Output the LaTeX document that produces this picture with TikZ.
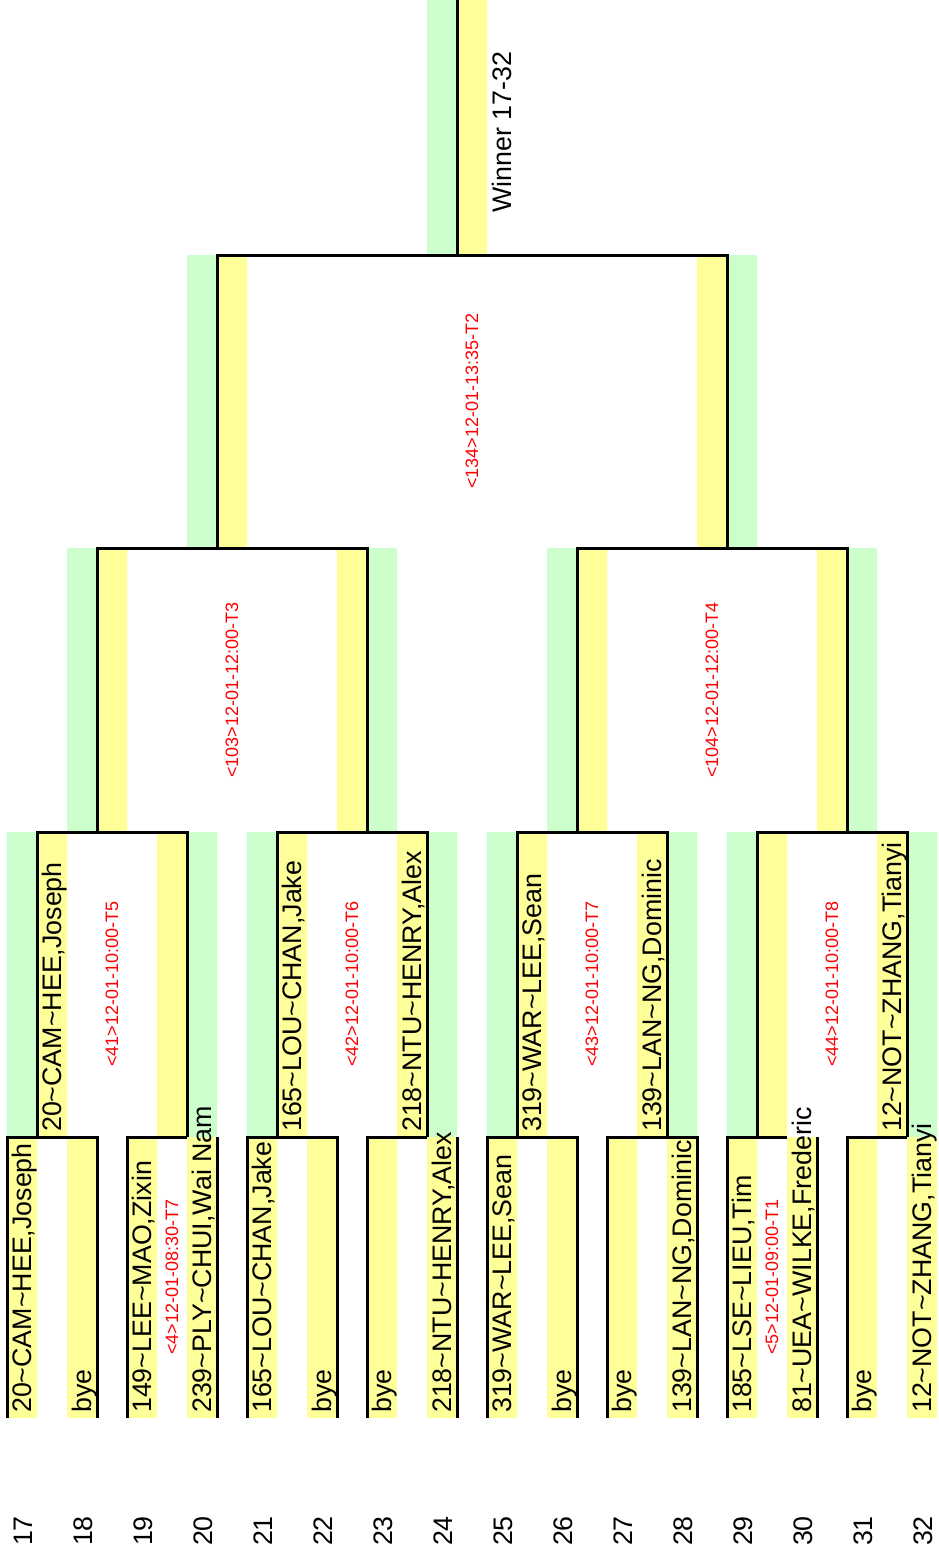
\documentclass[tikz,border=0pt]{standalone}
\usepackage{fontspec}
\setmainfont{Liberation Sans}
\usepackage{xcolor}
\definecolor{slotyellow}{RGB}{255,255,153}
\definecolor{slotgreen}{RGB}{204,255,204}

\begin{document}
\begin{tikzpicture}[x=1pt,y=-1pt,
    entrant/.style={rotate=90,anchor=base west,inner sep=0pt,font=\fontsize{26.8}{30}\selectfont},
    slotno/.style={rotate=90,anchor=base,inner sep=0pt,font=\fontsize{26.8}{30}\selectfont},
    fixture/.style={rotate=90,inner sep=0pt,text=red,font=\fontsize{18}{20}\selectfont},
    bracket/.style={line width=3pt,line join=miter}]

    \useasboundingbox (0,0) rectangle (938,1558);

    % first round slots
    \fill[slotyellow] (7,1137) rectangle (37,1418) (67,1137) rectangle (97,1418)
      (127,1137) rectangle (157,1418) (187,1137) rectangle (217,1418)
      (247,1137) rectangle (277,1418) (307,1137) rectangle (337,1418)
      (367,1137) rectangle (397,1418) (427,1137) rectangle (457,1418)
      (487,1137) rectangle (517,1418) (547,1137) rectangle (577,1418)
      (607,1137) rectangle (637,1418) (667,1137) rectangle (697,1418)
      (727,1137) rectangle (757,1418) (787,1137) rectangle (817,1418)
      (847,1137) rectangle (877,1418) (907,1137) rectangle (937,1418);

    % second round slots
    \fill[slotgreen] (7,832) rectangle (37,1137) (187,832) rectangle (217,1137)
      (247,832) rectangle (277,1137) (427,832) rectangle (457,1137)
      (487,832) rectangle (517,1137) (667,832) rectangle (697,1137)
      (727,832) rectangle (757,1137) (907,832) rectangle (937,1137);
    \fill[slotyellow] (37,832) rectangle (67,1137) (157,832) rectangle (187,1137)
      (277,832) rectangle (307,1137) (397,832) rectangle (427,1137)
      (517,832) rectangle (547,1137) (637,832) rectangle (667,1137)
      (757,832) rectangle (787,1137) (877,832) rectangle (907,1137);

    % semi-finals
    \fill[slotgreen] (67,548) rectangle (97,832) (367,548) rectangle (397,832)
      (547,548) rectangle (577,832) (847,548) rectangle (877,832);
    \fill[slotyellow] (97,548) rectangle (127,832) (337,548) rectangle (367,832)
      (577,548) rectangle (607,832) (817,548) rectangle (847,832);

    % final and winner
    \fill[slotgreen] (187,255) rectangle (217,548) (727,255) rectangle (757,548)
      (427,0) rectangle (457,255);
    \fill[slotyellow] (217,255) rectangle (247,548) (697,255) rectangle (727,548)
      (457,0) rectangle (487,255);

    \coordinate (s17) at (7,1418);   \coordinate (t17) at (7,1137);
    \coordinate (s18) at (97,1418);  \coordinate (t18) at (97,1137);
    \coordinate (s19) at (127,1418); \coordinate (t19) at (127,1137);
    \coordinate (s20) at (217,1418); \coordinate (t20) at (217,1137);
    \coordinate (s21) at (247,1418); \coordinate (t21) at (247,1137);
    \coordinate (s22) at (337,1418); \coordinate (t22) at (337,1137);
    \coordinate (s23) at (367,1418); \coordinate (t23) at (367,1137);
    \coordinate (s24) at (457,1418); \coordinate (t24) at (457,1137);
    \coordinate (s25) at (487,1418); \coordinate (t25) at (487,1137);
    \coordinate (s26) at (577,1418); \coordinate (t26) at (577,1137);
    \coordinate (s27) at (607,1418); \coordinate (t27) at (607,1137);
    \coordinate (s28) at (697,1418); \coordinate (t28) at (697,1137);
    \coordinate (s29) at (727,1418); \coordinate (t29) at (727,1137);
    \coordinate (s30) at (817,1418); \coordinate (t30) at (817,1137);
    \coordinate (s31) at (847,1418); \coordinate (t31) at (847,1137);
    % overflowing names hide the top edge
    \coordinate (c20) at (187,1137);
    \coordinate (c24) at (427,1137);
    \coordinate (c30) at (787,1137);
    \coordinate (c32) at (907,1137);

    \coordinate (qa) at (37,1137);  \coordinate (ra) at (37,832);
    \coordinate (qb) at (187,1137); \coordinate (rb) at (187,832);
    \coordinate (qc) at (277,1137); \coordinate (rc) at (277,832);
    \coordinate (qd) at (427,1137); \coordinate (rd) at (427,832);
    \coordinate (qe) at (517,1137); \coordinate (re) at (517,832);
    \coordinate (qf) at (667,1137); \coordinate (rf) at (667,832);
    \coordinate (qg) at (757,1137); \coordinate (rg) at (757,832);
    \coordinate (qh) at (907,1137); \coordinate (rh) at (907,832);

    \coordinate (ha) at (97,832);  \coordinate (ka) at (97,548);
    \coordinate (hb) at (367,832); \coordinate (kb) at (367,548);
    \coordinate (hc) at (577,832); \coordinate (kc) at (577,548);
    \coordinate (hd) at (847,832); \coordinate (kd) at (847,548);

    \coordinate (fa) at (217,548); \coordinate (ga) at (217,255);
    \coordinate (fb) at (727,548); \coordinate (gb) at (727,255);

    \coordinate (w) at (457,255);  \coordinate (wtop) at (457,0);

    \draw[bracket] (s17) -- (t17) -- (t18) -- (s18);
    \draw[bracket] (s19) -- (t19) -- (c20);
    \draw[bracket] (t20) -- (s20);
    \draw[bracket] (s21) -- (t21) -- (t22) -- (s22);
    \draw[bracket] (s23) -- (t23) -- (c24);
    \draw[bracket] (t24) -- (s24);
    \draw[bracket] (s25) -- (t25) -- (t26) -- (s26);
    \draw[bracket] (s27) -- (t27) -- (t28) -- (s28);
    \draw[bracket] (s29) -- (t29) -- (c30);
    \draw[bracket] (t30) -- (s30);
    \draw[bracket] (s31) -- (t31) -- (c32);

    \draw[bracket] (qa) -- (ra) -- (rb) -- (qb);
    \draw[bracket] (qc) -- (rc) -- (rd) -- (qd);
    \draw[bracket] (qe) -- (re) -- (rf) -- (qf);
    \draw[bracket] (qg) -- (rg) -- (rh) -- (qh);

    \draw[bracket] (ha) -- (ka) -- (kb) -- (hb);
    \draw[bracket] (hc) -- (kc) -- (kd) -- (hd);

    \draw[bracket] (fa) -- (ga) -- (gb) -- (fb);
    \draw[bracket] (w) -- (wtop);

    % entrants
    \node[entrant] (e17) at (31,1413)  {20\textasciitilde CAM\textasciitilde HEE,Joseph};
    \node[entrant] (e18) at (91,1413)  {bye};
    \node[entrant] (e19) at (151,1413) {149\textasciitilde LEE\textasciitilde MAO,Zixin};
    \node[entrant] (e20) at (211,1413) {239\textasciitilde PLY\textasciitilde CHUI,Wai Nam};
    \node[entrant] (e21) at (271,1413) {165\textasciitilde LOU\textasciitilde CHAN,Jake};
    \node[entrant] (e22) at (331,1413) {bye};
    \node[entrant] (e23) at (391,1413) {bye};
    \node[entrant] (e24) at (451,1413) {218\textasciitilde NTU\textasciitilde HENRY,Alex};
    \node[entrant] (e25) at (511,1413) {319\textasciitilde WAR\textasciitilde LEE,Sean};
    \node[entrant] (e26) at (571,1413) {bye};
    \node[entrant] (e27) at (631,1413) {bye};
    \node[entrant] (e28) at (691,1413) {139\textasciitilde LAN\textasciitilde NG,Dominic};
    \node[entrant] (e29) at (751,1413) {185\textasciitilde LSE\textasciitilde LIEU,Tim};
    \node[entrant] (e30) at (811,1413) {81\textasciitilde UEA\textasciitilde WILKE,Frederic};
    \node[entrant] (e31) at (871,1413) {bye};
    \node[entrant] (e32) at (931,1413) {12\textasciitilde NOT\textasciitilde ZHANG,Tianyi};

    \node[entrant] (wa) at (61,1132)  {20\textasciitilde CAM\textasciitilde HEE,Joseph};
    \node[entrant] (wc) at (301,1132) {165\textasciitilde LOU\textasciitilde CHAN,Jake};
    \node[entrant] (wd) at (421,1132) {218\textasciitilde NTU\textasciitilde HENRY,Alex};
    \node[entrant] (we) at (541,1132) {319\textasciitilde WAR\textasciitilde LEE,Sean};
    \node[entrant] (wf) at (661,1132) {139\textasciitilde LAN\textasciitilde NG,Dominic};
    \node[entrant] (wh) at (901,1132) {12\textasciitilde NOT\textasciitilde ZHANG,Tianyi};

    \node[slotno] (winner) at (511,132) {Winner 17-32};

    % match labels
    \node[fixture] (m4)   at (172,1277) {<4>12-01-08:30-T7};
    \node[fixture] (m5)   at (772,1277) {<5>12-01-09:00-T1};
    \node[fixture] (m41)  at (112,984)  {<41>12-01-10:00-T5};
    \node[fixture] (m42)  at (352,984)  {<42>12-01-10:00-T6};
    \node[fixture] (m43)  at (592,984)  {<43>12-01-10:00-T7};
    \node[fixture] (m44)  at (832,984)  {<44>12-01-10:00-T8};
    \node[fixture] (m103) at (232,690)  {<103>12-01-12:00-T3};
    \node[fixture] (m104) at (712,690)  {<104>12-01-12:00-T4};
    \node[fixture] (m134) at (472,401)  {<134>12-01-13:35-T2};

    % slot numbers
    \node[slotno] (n17) at (32,1531)  {17};
    \node[slotno] (n18) at (92,1531)  {18};
    \node[slotno] (n19) at (152,1531) {19};
    \node[slotno] (n20) at (212,1531) {20};
    \node[slotno] (n21) at (272,1531) {21};
    \node[slotno] (n22) at (332,1531) {22};
    \node[slotno] (n23) at (392,1531) {23};
    \node[slotno] (n24) at (452,1531) {24};
    \node[slotno] (n25) at (512,1531) {25};
    \node[slotno] (n26) at (572,1531) {26};
    \node[slotno] (n27) at (632,1531) {27};
    \node[slotno] (n28) at (692,1531) {28};
    \node[slotno] (n29) at (752,1531) {29};
    \node[slotno] (n30) at (812,1531) {30};
    \node[slotno] (n31) at (872,1531) {31};
    \node[slotno] (n32) at (932,1531) {32};

\end{tikzpicture}
\end{document}
